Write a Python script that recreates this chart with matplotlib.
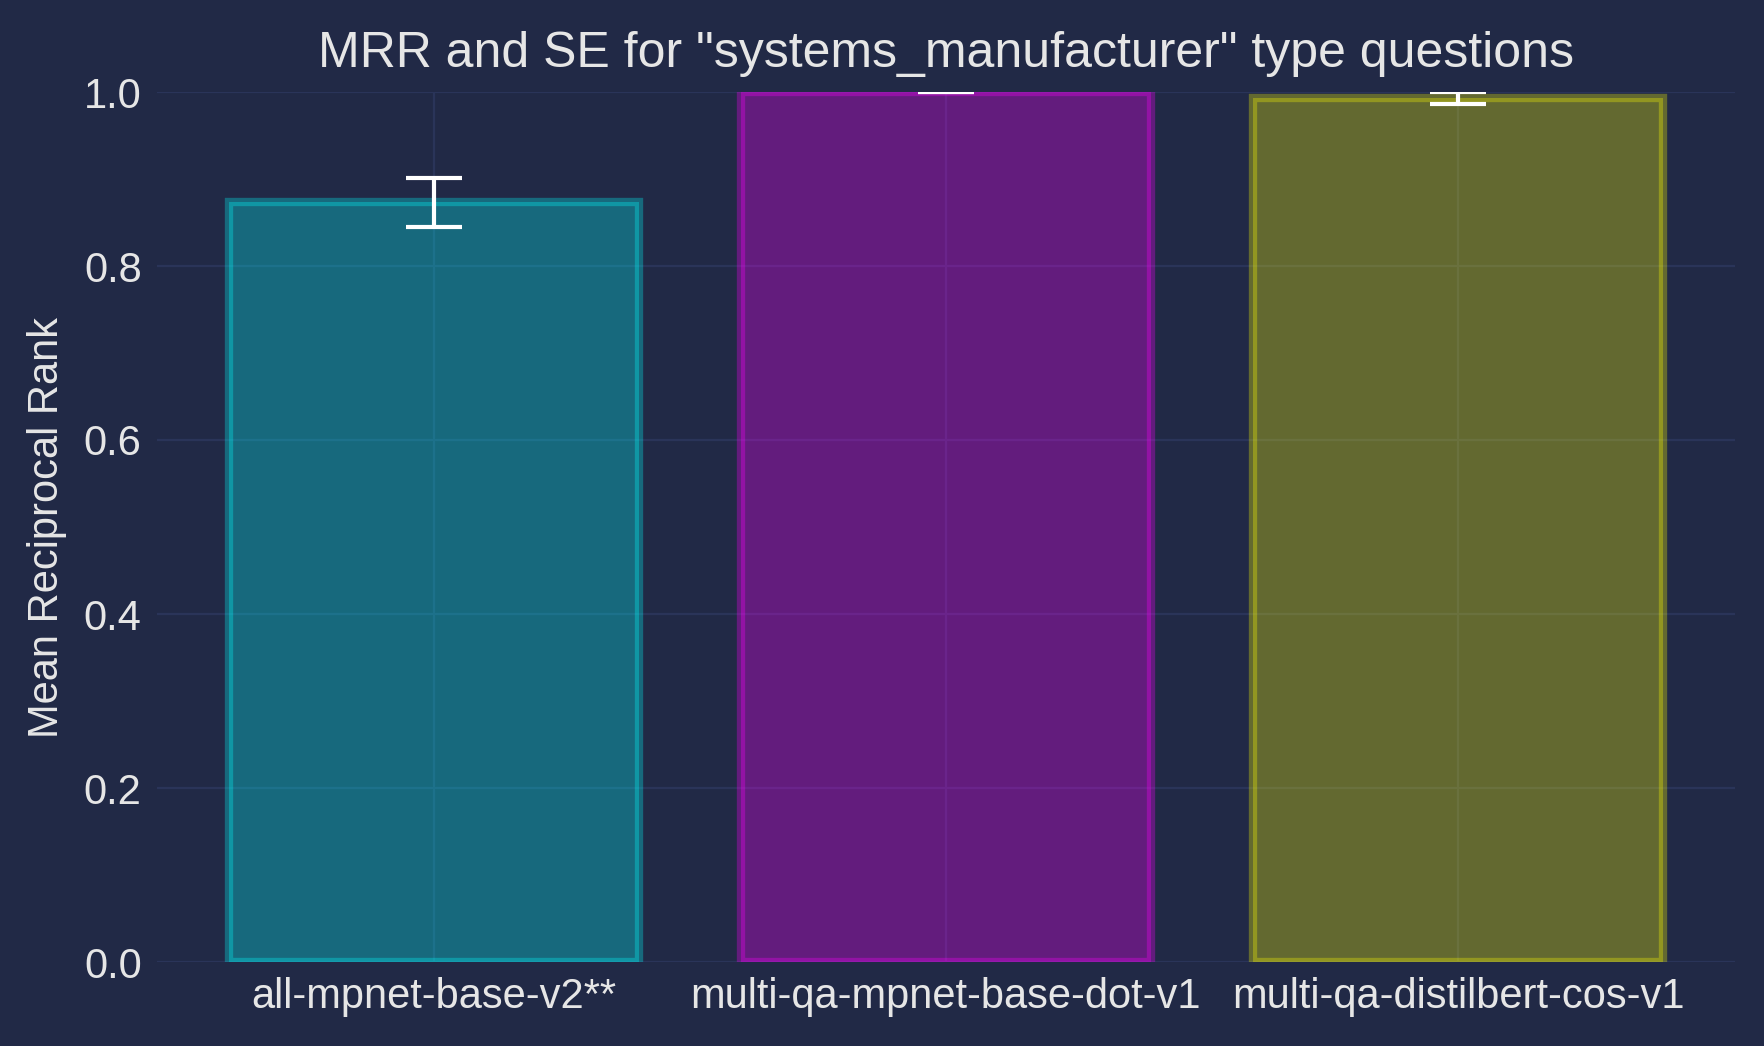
import matplotlib.pyplot as plt

models = ["all-mpnet-base-v2**", "multi-qa-mpnet-base-dot-v1", "multi-qa-distilbert-cos-v1"]
mrr = [0.873, 1.0, 0.993]
se = [0.028, 0.0, 0.007]
bar_colors = ["cyan", "magenta", "yellow"]

bg = "#212946"
text_col = "#E6E6E6"

plt.rcParams['font.family'] = ['Liberation Sans', 'DejaVu Sans']

fig, ax = plt.subplots(figsize=(8.825, 5.23), dpi=200)
fig.patch.set_facecolor(bg)
ax.set_facecolor(bg)

ax.bar(models, mrr, yerr=se, color=bar_colors, edgecolor=bar_colors, alpha=0.3,
       linewidth=3, capsize=10,
       error_kw=dict(ecolor="white", elinewidth=1.5, capthick=1.5))

ax.set_ylim(0, 1.0)
ax.grid(True, color="#2A3459", linewidth=0.8)
ax.set_axisbelow(True)
for s in ax.spines.values():
    s.set_visible(False)
ax.tick_params(axis="both", length=0, pad=5.5, labelsize=15, colors=text_col)
ax.set_ylabel("Mean Reciprocal Rank", fontsize=15, color=text_col, labelpad=6)
ax.set_title('MRR and SE for "systems_manufacturer" type questions', fontsize=18,
             color=text_col, pad=9)

fig.subplots_adjust(left=157/1765, right=1735/1765, top=1-92/1046, bottom=1-962/1046)
fig.savefig("out.png", facecolor=bg)
